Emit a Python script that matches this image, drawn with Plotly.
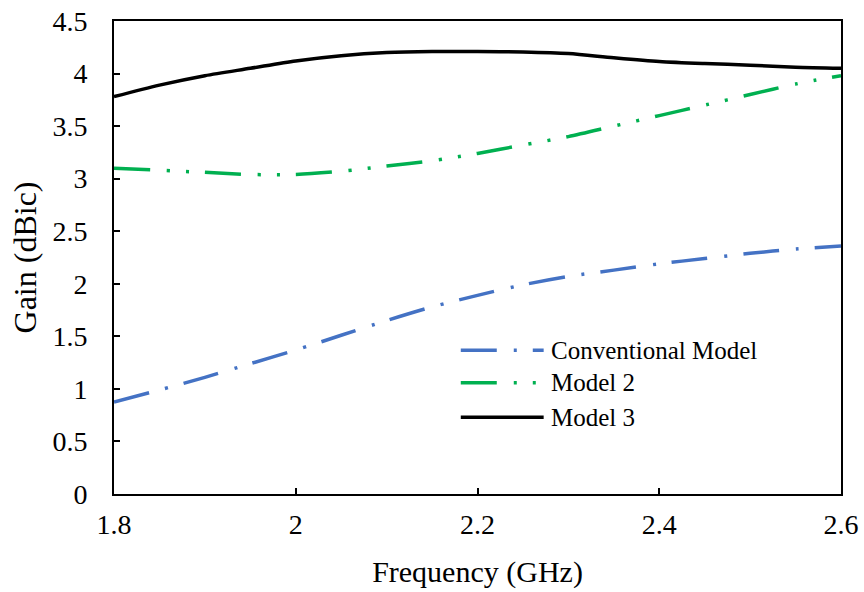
import plotly.graph_objects as go

# Frequency sweep (GHz) and gain (dBic) of the three antenna models
freq = [1.8, 1.85, 1.9, 1.95, 2.0, 2.05, 2.1, 2.15, 2.2, 2.25, 2.3, 2.35, 2.4, 2.45, 2.5, 2.55, 2.6]
gain_conventional = [0.875, 0.99, 1.11, 1.24, 1.37, 1.51, 1.65, 1.78, 1.89, 1.99, 2.07, 2.13, 2.19, 2.24, 2.29, 2.33, 2.36]
gain_model2 = [3.10, 3.08, 3.06, 3.04, 3.04, 3.07, 3.12, 3.17, 3.24, 3.32, 3.40, 3.50, 3.60, 3.70, 3.80, 3.90, 3.98]
gain_model3 = [3.78, 3.89, 3.98, 4.05, 4.12, 4.17, 4.20, 4.21, 4.21, 4.205, 4.19, 4.15, 4.115, 4.095, 4.08, 4.06, 4.05]

series_names = ["Conventional Model", "Model 2", "Model 3"]
x_ticks = [1.8, 2.0, 2.2, 2.4, 2.6]
x_tick_text = ["1.8", "2", "2.2", "2.4", "2.6"]
y_ticks = [0, 0.5, 1, 1.5, 2, 2.5, 3, 3.5, 4, 4.5]
y_tick_text = ["0", "0.5", "1", "1.5", "2", "2.5", "3", "3.5", "4", "4.5"]

FONT = "Liberation Serif, Times New Roman, serif"
BLUE = "#4472C4"
GREEN = "#00B050"
BLACK = "#000000"
DASH_BLUE = "36px,17px,3px,16px"
DASH_GREEN = "36px,17px,3px,16px,3px,16px"

styles = [
    dict(color=BLUE, dash=DASH_BLUE, width=3.5),
    dict(color=GREEN, dash=DASH_GREEN, width=3.5),
    dict(color=BLACK, dash="solid", width=3.5),
]
series = [gain_conventional, gain_model2, gain_model3]

fig = go.Figure()
for name, ys, st in zip(series_names, series, styles):
    fig.add_trace(go.Scatter(
        x=freq, y=ys, mode="lines", name=name, showlegend=False,
        line=dict(color=st["color"], dash=st["dash"], width=st["width"], shape="spline", smoothing=0.8),
    ))

# Legend drawn as line samples with text labels, inside the plot area
leg_x0, leg_x1, leg_tx = 0.477, 0.591, 0.599
leg_rows = [0.304, 0.235, 0.162]
for name, st, ly in zip(series_names, styles, leg_rows):
    fig.add_shape(type="line", xref="paper", yref="paper",
                  x0=leg_x0, x1=leg_x1, y0=ly, y1=ly,
                  line=dict(color=st["color"], dash=st["dash"], width=st["width"]))
    fig.add_annotation(xref="paper", yref="paper", x=leg_tx, y=ly,
                       xanchor="left", yanchor="middle", showarrow=False,
                       text=name, font=dict(family=FONT, size=25, color="#000"))

axis_common = dict(
    showline=True, linecolor="black", linewidth=2, mirror=True,
    ticks="inside", ticklen=6, tickwidth=2, tickcolor="black",
    showgrid=False, zeroline=False, automargin=False,
    tickfont=dict(family=FONT, size=28, color="#000"),
)

fig.update_xaxes(
    range=[1.8, 2.6], tickvals=x_ticks, ticktext=x_tick_text,
    title=dict(text="Frequency (GHz)", font=dict(family=FONT, size=30, color="#000"), standoff=22),
    ticklabelstandoff=4,
    **axis_common,
)
fig.update_yaxes(
    range=[0, 4.5], tickvals=y_ticks, ticktext=y_tick_text,
    title=dict(text="Gain (dBic)", font=dict(family=FONT, size=32, color="#000"), standoff=6),
    ticklabelstandoff=19,
    **axis_common,
)

fig.update_layout(
    width=864, height=592,
    margin=dict(l=114, r=23, t=21, b=98),
    paper_bgcolor="white", plot_bgcolor="white",
    showlegend=False,
)

fig.write_html("out.html")
